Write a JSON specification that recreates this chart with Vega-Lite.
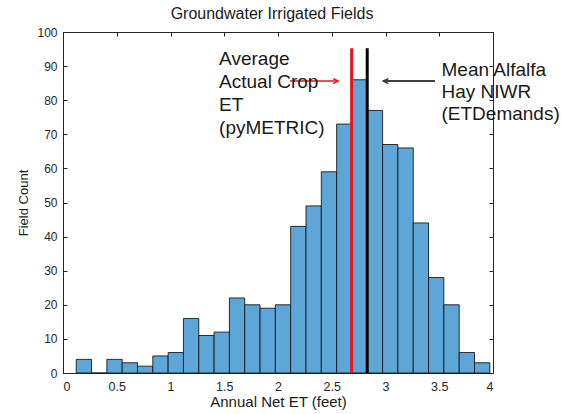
{
  "$schema": "https://vega.github.io/schema/vega-lite/v6.json",
  "width": 430,
  "height": 341,
  "autosize": {"type": "none"},
  "padding": {"left": 63, "top": 32, "right": 72, "bottom": 41},
  "background": "white",
  "title": {"text": "Groundwater Irrigated Fields", "fontSize": 16, "fontWeight": "normal", "font": "Liberation Sans", "color": "#1a1a1a", "offset": 4, "dx": -6},
  "config": {
    "view": {"stroke": "#262626", "strokeWidth": 1},
    "scale": {"continuousPadding": 0},
    "axis": {"grid": false, "domainColor": "#262626", "tickColor": "#262626", "labelColor": "#262626", "labelFont": "Liberation Sans", "titleFont": "Liberation Sans", "titleFontWeight": "normal", "titleColor": "#1a1a1a"}
  },
  "datasets": {
    "bins": [
      {"start": 0.123, "end": 0.2655, "count": 4},
      {"start": 0.2655, "end": 0.408, "count": 0},
      {"start": 0.408, "end": 0.5505, "count": 4},
      {"start": 0.5505, "end": 0.693, "count": 3},
      {"start": 0.693, "end": 0.8355, "count": 2},
      {"start": 0.8355, "end": 0.978, "count": 5},
      {"start": 0.978, "end": 1.1205, "count": 6},
      {"start": 1.1205, "end": 1.263, "count": 16},
      {"start": 1.263, "end": 1.4055, "count": 11},
      {"start": 1.4055, "end": 1.548, "count": 12},
      {"start": 1.548, "end": 1.6905, "count": 22},
      {"start": 1.6905, "end": 1.833, "count": 20},
      {"start": 1.833, "end": 1.9755, "count": 19},
      {"start": 1.9755, "end": 2.118, "count": 20},
      {"start": 2.118, "end": 2.2605, "count": 43},
      {"start": 2.2605, "end": 2.403, "count": 49},
      {"start": 2.403, "end": 2.5455, "count": 59},
      {"start": 2.5455, "end": 2.688, "count": 73},
      {"start": 2.688, "end": 2.8305, "count": 86},
      {"start": 2.8305, "end": 2.973, "count": 77},
      {"start": 2.973, "end": 3.1155, "count": 67},
      {"start": 3.1155, "end": 3.258, "count": 66},
      {"start": 3.258, "end": 3.4005, "count": 44},
      {"start": 3.4005, "end": 3.543, "count": 28},
      {"start": 3.543, "end": 3.6855, "count": 20},
      {"start": 3.6855, "end": 3.828, "count": 6},
      {"start": 3.828, "end": 3.9705, "count": 3}
    ],
    "vlines": [
      {"x": 2.685, "y0": 0, "y1": 95.2, "series": "pyMETRIC"},
      {"x": 2.83, "y0": 0, "y1": 95.2, "series": "ETDemands"}
    ],
    "arrows": [
      {"x0": 2.11, "x1": 2.56, "y": 85.6, "series": "pyMETRIC"},
      {"x0": 3.46, "x1": 2.98, "y": 85.6, "series": "ETDemands"}
    ],
    "labels": [
      {"x": 1.452, "y": 92.2, "text": "Average"},
      {"x": 1.452, "y": 85.4, "text": "Actual Crop"},
      {"x": 1.452, "y": 78.6, "text": "ET"},
      {"x": 1.452, "y": 71.8, "text": "(pyMETRIC)"},
      {"x": 3.521, "y": 88.9, "text": "Mean Alfalfa"},
      {"x": 3.521, "y": 82.5, "text": "Hay NIWR"},
      {"x": 3.521, "y": 75.9, "text": "(ETDemands)"}
    ]
  },
  "resolve": {"axis": {"x": "independent", "y": "independent"}},
  "layer": [
    {
      "data": {"name": "bins"},
      "mark": {"type": "bar", "fill": "#5EA6D8", "stroke": "#1a1a1a", "strokeWidth": 0.9},
      "encoding": {
        "x": {"field": "start", "type": "quantitative", "scale": {"domain": [0, 4], "nice": false, "padding": 0, "zero": false},
          "axis": {"orient": "bottom", "values": [0, 0.5, 1, 1.5, 2, 2.5, 3, 3.5, 4], "format": "~g", "tickSize": -4, "labelPadding": 11, "labelFontSize": 12.5, "title": "Annual Net ET (feet)", "titleFontSize": 15, "titlePadding": 2}},
        "x2": {"field": "end"},
        "y": {"field": "count", "type": "quantitative", "scale": {"domain": [0, 100], "nice": false, "padding": 0},
          "axis": {"orient": "left", "values": [0, 10, 20, 30, 40, 50, 60, 70, 80, 90, 100], "tickSize": -4, "labelPadding": 10, "labelFontSize": 12, "title": "Field Count", "titleFontSize": 13, "titlePadding": 6}},
        "y2": {"datum": 0}
      }
    },
    {
      "data": {"name": "vlines"},
      "mark": {"type": "rule", "strokeWidth": 3},
      "encoding": {
        "x": {"field": "x", "type": "quantitative", "scale": {"domain": [0, 4], "nice": false, "padding": 0},
          "axis": {"orient": "top", "values": [0, 0.5, 1, 1.5, 2, 2.5, 3, 3.5, 4], "tickSize": -4, "labels": false, "title": null}},
        "y": {"field": "y0", "type": "quantitative", "scale": {"domain": [0, 100], "nice": false, "padding": 0},
          "axis": {"orient": "right", "values": [0, 10, 20, 30, 40, 50, 60, 70, 80, 90, 100], "tickSize": -4, "labels": false, "title": null}},
        "y2": {"field": "y1"},
        "color": {"field": "series", "type": "nominal", "scale": {"domain": ["pyMETRIC", "ETDemands"], "range": ["#e8141b", "#000000"]}, "legend": null}
      }
    },
    {
      "data": {"name": "arrows"},
      "mark": {"type": "rule", "strokeWidth": 1.5},
      "encoding": {
        "x": {"field": "x0", "type": "quantitative", "axis": null},
        "x2": {"field": "x1"},
        "y": {"field": "y", "type": "quantitative", "axis": null},
        "color": {"field": "series", "type": "nominal", "scale": {"domain": ["pyMETRIC", "ETDemands"], "range": ["#e8141b", "#333333"]}, "legend": null}
      }
    },
    {
      "data": {"name": "arrows"},
      "transform": [{"filter": "datum.series == 'pyMETRIC'"}],
      "mark": {"type": "point", "shape": "M-2,-1L0,0L-2,1", "size": 25, "filled": false, "stroke": "#e8141b", "strokeWidth": 1.5, "opacity": 1},
      "encoding": {
        "x": {"field": "x1", "type": "quantitative", "axis": null},
        "y": {"field": "y", "type": "quantitative", "axis": null}
      }
    },
    {
      "data": {"name": "arrows"},
      "transform": [{"filter": "datum.series == 'ETDemands'"}],
      "mark": {"type": "point", "shape": "M2,-1L0,0L2,1", "size": 25, "filled": false, "stroke": "#333333", "strokeWidth": 1.5, "opacity": 1},
      "encoding": {
        "x": {"field": "x1", "type": "quantitative", "axis": null},
        "y": {"field": "y", "type": "quantitative", "axis": null}
      }
    },
    {
      "data": {"name": "labels"},
      "mark": {"type": "text", "align": "left", "baseline": "middle", "font": "Liberation Sans", "fontSize": 19, "color": "#1a1a1a"},
      "encoding": {
        "x": {"field": "x", "type": "quantitative", "axis": null},
        "y": {"field": "y", "type": "quantitative", "axis": null},
        "text": {"field": "text"}
      }
    }
  ]
}
